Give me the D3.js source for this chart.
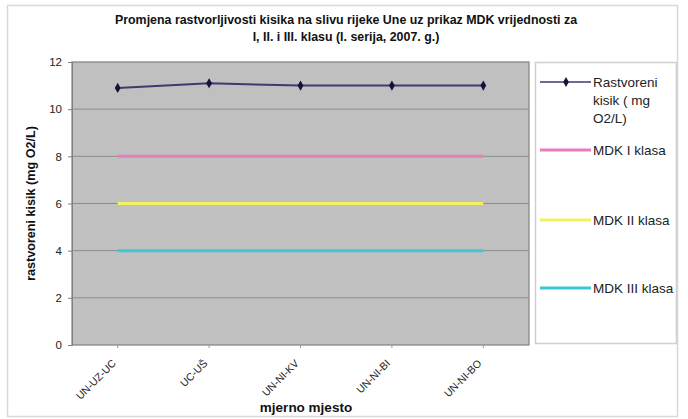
<!DOCTYPE html>
<html><head><meta charset="utf-8">
<script src="https://cdn.jsdelivr.net/npm/d3@7/dist/d3.min.js"></script>
<style>
html,body{margin:0;padding:0;background:#fff;}
text{font-family:Arial,"Liberation Sans",sans-serif;}
</style></head>
<body><svg id="c" width="688" height="419"></svg>
<script>
const categories = ["UN-UZ-UC","UC-UŠ","UN-NI-KV","UN-NI-BI","UN-NI-BO"];
const rastvoreni = [10.9, 11.1, 11.0, 11.0, 11.0];
const mdk1 = [8, 8, 8, 8, 8];
const mdk2 = [6, 6, 6, 6, 6];
const mdk3 = [4, 4, 4, 4, 4];
const yTicks = [0, 2, 4, 6, 8, 10, 12];
const titleLines = ["Promjena rastvorljivosti kisika na slivu rijeke Une uz prikaz MDK vrijednosti za", "I, II. i III. klasu (I. serija, 2007. g.)"];

const series = [
  {name:["Rastvoreni","kisik ( mg","O2/L)"], values:rastvoreni, color:"#3c3c70", marker:true},
  {name:["MDK I klasa"], values:mdk1, color:"#e77dba", marker:false},
  {name:["MDK II klasa"], values:mdk2, color:"#f3f25c", marker:false},
  {name:["MDK III klasa"], values:mdk3, color:"#3fc6d6", marker:false}
];

const svg = d3.select("#c");
const L = 72, R = 529, T = 62, B = 345;

// outer frame
svg.append("rect").attr("x",7.5).attr("y",5.5).attr("width",670).attr("height",411)
  .attr("fill","#fff").attr("stroke","#d8d8d8").attr("stroke-width",1.5);

// title
svg.append("g").selectAll("text").data(titleLines).join("text")
  .attr("x",346).attr("y",(d,i)=>24+i*17).attr("text-anchor","middle")
  .attr("font-size","12.4px").attr("font-weight","bold").attr("fill","#111").text(d=>d);

const x = d3.scaleBand().domain(categories).range([L,R]);
const y = d3.scaleLinear().domain([0,12]).range([B,T]);

// plot area
svg.append("rect").attr("x",L).attr("y",T).attr("width",R-L).attr("height",B-T)
  .attr("fill","#c0c0c0");
// grid
svg.append("g").selectAll("line").data(yTicks.filter(t=>t>0&&t<12)).join("line")
  .attr("x1",L).attr("x2",R).attr("y1",d=>y(d)).attr("y2",d=>y(d))
  .attr("stroke","#8c8c8c").attr("stroke-width",1);
svg.append("rect").attr("x",L).attr("y",T).attr("width",R-L).attr("height",B-T)
  .attr("fill","none").attr("stroke","#808080").attr("stroke-width",1.2);

// y axis
const ya = svg.append("g").attr("transform",`translate(${L},0)`)
  .call(d3.axisLeft(y).tickValues(yTicks).tickSize(4).tickPadding(6));
ya.select(".domain").attr("stroke","#808080");
ya.selectAll(".tick line").attr("stroke","#808080");
ya.selectAll("text").attr("font-size","11.5px").attr("fill","#222").attr("font-family","Arial, Liberation Sans, sans-serif");

// x axis
const xa = svg.append("g").attr("transform",`translate(0,${B})`)
  .call(d3.axisBottom(x).tickSize(3).tickPadding(4));
xa.select(".domain").remove();
xa.selectAll(".tick line").attr("stroke","#999");
xa.selectAll(".tick text")
  .attr("font-size","10.5px").attr("fill","#222").attr("font-family","Arial, Liberation Sans, sans-serif")
  .attr("text-anchor","end").attr("dy",0).attr("y",0)
  .attr("transform","translate(-1,19) rotate(-45)");

// axis titles
svg.append("text").attr("transform",`translate(35,${(T+B)/2}) rotate(-90)`)
  .attr("text-anchor","middle").attr("font-size","12.6px").attr("font-weight","bold").attr("fill","#111")
  .text("rastvoreni kisik (mg O2/L)");
svg.append("text").attr("x",306).attr("y",412).attr("text-anchor","middle")
  .attr("font-size","13.5px").attr("font-weight","bold").attr("fill","#111").text("mjerno mjesto");

// lines
const line = d3.line().x((d,i)=>x(categories[i])+x.bandwidth()/2).y(d=>y(d));
series.slice().reverse().forEach(s=>{
  svg.append("path").datum(s.values).attr("d",line).attr("fill","none")
    .attr("stroke",s.color).attr("stroke-width",s.marker?2:3);
  if(s.marker){
    svg.append("g").selectAll("path").data(s.values).join("path")
      .attr("d",d3.symbol(d3.symbolDiamond,30))
      .attr("transform",(d,i)=>`translate(${x(categories[i])+x.bandwidth()/2},${y(d)})`)
      .attr("fill","#141438");
  }
});

// legend
svg.append("rect").attr("x",535.5).attr("y",62.5).attr("width",141).attr("height",281)
  .attr("fill","#fff").attr("stroke","#cfcfcf").attr("stroke-width",1.5);
const legY = [82, 150, 220, 288];
series.forEach((s,i)=>{
  const g = svg.append("g");
  g.append("line").attr("x1",540).attr("x2",591).attr("y1",legY[i]).attr("y2",legY[i])
    .attr("stroke",s.color).attr("stroke-width",s.marker?1.5:3);
  if(s.marker){
    g.append("path").attr("d",d3.symbol(d3.symbolDiamond,28)).attr("transform",`translate(566,${legY[i]})`).attr("fill","#141438");
  }
  g.selectAll("text").data(s.name).join("text")
    .attr("x",593).attr("y",(d,j)=>legY[i]+5+j*18)
    .attr("font-size","13.5px").attr("fill","#222").text(d=>d);
});
</script></body></html>
